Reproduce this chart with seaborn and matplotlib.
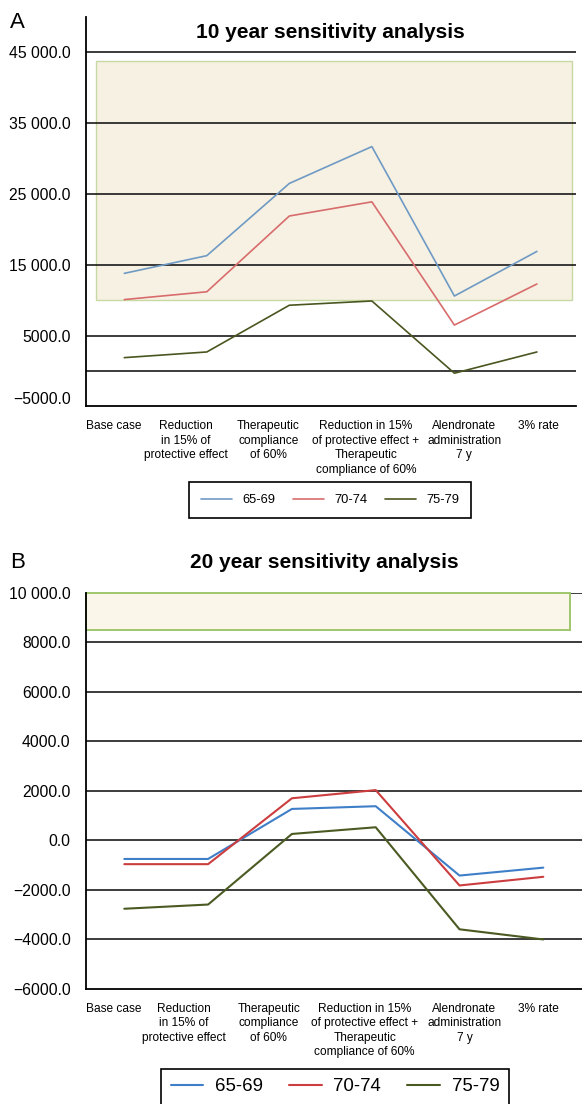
import numpy as np
import pandas as pd
import matplotlib.pyplot as plt
import matplotlib.transforms as mtransforms
from matplotlib.lines import Line2D
from matplotlib.patches import Rectangle
import seaborn as sns

# scenarios on the x axis
scenarios = [
    "Base case",
    "Reduction\nin 15% of\nprotective effect",
    "Therapeutic\ncompliance\nof 60%",
    "Reduction in 15%\nof protective effect +\nTherapeutic\ncompliance of 60%",
    "Alendronate\nadministration\n7 y",
    "3% rate",
]
age_groups = ["65-69", "70-74", "75-79"]

# panel A: 10 year horizon
icer_10y_6569 = [13800, 16300, 26500, 31700, 10600, 16900]
icer_10y_7074 = [10100, 11200, 21900, 23900, 6500, 12300]
icer_10y_7579 = [1900, 2700, 9300, 9900, -300, 2700]
band_10y = (10000, 43800)
yticks_10y = [-5000, 5000, 15000, 25000, 35000, 45000]

# panel B: 20 year horizon
icer_20y_6569 = [-750, -750, 1270, 1380, -1420, -1100]
icer_20y_7074 = [-960, -960, 1700, 2030, -1820, -1470]
icer_20y_7579 = [-2760, -2590, 260, 530, -3590, -4000]
band_20y = (8500, 10000)
yticks_20y = [-6000, -4000, -2000, 0, 2000, 4000, 6000, 8000, 10000]

colors_a = ["#6f9ac4", "#d86c6c", "#4a5620"]
colors_b = ["#3f7fc8", "#cc3d3f", "#4b5a22"]

# pixel nudges so the wrapped labels sit like the original
shift_a = [-11, -21, -21, -6, 10, 2]
shift_b = [-11, -24, -23, -11, 5, -5]

sns.set_style("white")
plt.rcParams['font.family'] = ['Liberation Sans', 'DejaVu Sans']
plt.rcParams['text.color'] = 'black'
plt.rcParams['xtick.color'] = 'black'
plt.rcParams['ytick.color'] = 'black'
plt.rcParams['axes.unicode_minus'] = True


def long_df(series):
    rows = []
    for age, vals in zip(age_groups, series):
        for i, v in enumerate(vals):
            rows.append({"step": i, "age": age, "value": v})
    return pd.DataFrame(rows)


def fmt(v):
    s = f"{abs(v):.1f}"
    if abs(v) >= 10000:
        s = f"{abs(v):,.1f}".replace(",", " ")
    return ("\u2212" if v < 0 else "") + s


def style_axis(ax, yticks, shifts, fig):
    for side in ["top", "right"]:
        ax.spines[side].set_visible(False)
    for side in ["left", "bottom"]:
        ax.spines[side].set_color("black")
        ax.spines[side].set_linewidth(1.3)
    ax.set_yticks(yticks)
    ax.set_yticklabels([fmt(v) for v in yticks], fontsize=11.3, color="black")
    ax.set_xticks(range(len(scenarios)))
    ax.set_xticklabels(scenarios, fontsize=8.6, va="top", linespacing=1.27, color="black")
    ax.tick_params(axis="y", length=0, pad=11)
    ax.tick_params(axis="x", length=0, pad=10)
    ax.set_xlabel("")
    ax.set_ylabel("")
    for lab, dx in zip(ax.get_xticklabels(), shifts):
        lab.set_transform(lab.get_transform() +
                          mtransforms.ScaledTranslation(dx / 100, 0, fig.dpi_scale_trans))


fig = plt.figure(figsize=(5.82, 11.04), dpi=100)
W, H = 582, 1104
ax1 = fig.add_axes([86 / W, 1 - 406.5 / H, (575.7 - 86) / W, (406.5 - 17) / H])
ax2 = fig.add_axes([86 / W, 1 - 989 / H, (581.7 - 86) / W, (989 - 592.7) / H])

# ---- panel A
df_a = long_df([icer_10y_6569, icer_10y_7074, icer_10y_7579])
ax1.add_patch(Rectangle((-0.347, band_10y[0]), 5.767, band_10y[1] - band_10y[0],
                        facecolor="#f6f1e3", edgecolor="#c8d9a3", lw=1.0, zorder=1))
for v in yticks_10y[1:] + [0]:
    ax1.axhline(v, color="#1a1a1a", lw=1.2, zorder=1.5)
sns.lineplot(data=df_a, x="step", y="value", hue="age", palette=colors_a,
             linewidth=1.2, legend=False, ax=ax1, zorder=3)
ax1.set_xlim(-0.464, 5.47)
ax1.set_ylim(-5000, 50000)
style_axis(ax1, yticks_10y, shift_a, fig)
# the lowest label sits a little above the axis line in the original
low = ax1.get_yticklabels()[0]
low.set_transform(low.get_transform() +
                  mtransforms.ScaledTranslation(0, 8 / 100, fig.dpi_scale_trans))

# ---- panel B
df_b = long_df([icer_20y_6569, icer_20y_7074, icer_20y_7579])
for v in yticks_20y[1:]:
    ax2.axhline(v, color="#1a1a1a", lw=1.2, zorder=1.5)
ax2.add_patch(Rectangle((-0.457, band_20y[0]), 5.78, band_20y[1] - band_20y[0],
                        facecolor="#faf6ea", edgecolor="#9fc66c", lw=1.4, zorder=2,
                        clip_on=False))
sns.lineplot(data=df_b, x="step", y="value", hue="age", palette=colors_b,
             linewidth=1.5, legend=False, ax=ax2, zorder=3)
ax2.set_xlim(-0.457, 5.458)
ax2.set_ylim(-6000, 10000)
style_axis(ax2, yticks_20y, shift_b, fig)

# titles and panel letters
fig.text(330 / W, 1 - 33 / H, "10 year sensitivity analysis", fontsize=15,
         fontweight="bold", ha="center", va="center", color="black")
fig.text(324 / W, 1 - 563 / H, "20 year sensitivity analysis", fontsize=15,
         fontweight="bold", ha="center", va="center", color="black")
fig.text(10 / W, 1 - 23 / H, "A", fontsize=16, ha="left", va="center", color="black")
fig.text(10 / W, 1 - 562 / H, "B", fontsize=16, ha="left", va="center", color="black")

# legends
h_a = [Line2D([], [], color=c, lw=1.2) for c in colors_a]
leg_a = fig.legend(h_a, age_groups, loc="center", bbox_to_anchor=(330 / W, 1 - 500 / H),
                   ncol=3, fontsize=9.3, handlelength=2.45, handletextpad=0.78,
                   columnspacing=1.33, borderpad=0.9, fancybox=False, framealpha=1,
                   labelcolor="black")
leg_a.get_frame().set_edgecolor("black")
leg_a.get_frame().set_linewidth(1.2)

h_b = [Line2D([], [], color=c, lw=1.5) for c in colors_b]
leg_b = fig.legend(h_b, age_groups, loc="upper center", bbox_to_anchor=(335 / W, 1 - 1069 / H),
                   ncol=3, fontsize=13.4, handlelength=1.75, handletextpad=0.62,
                   columnspacing=1.42, borderpad=0.5, fancybox=False, framealpha=1,
                   borderaxespad=0, labelcolor="black")
leg_b.get_frame().set_edgecolor("black")
leg_b.get_frame().set_linewidth(1.2)

fig.savefig("out.png", dpi=100)
